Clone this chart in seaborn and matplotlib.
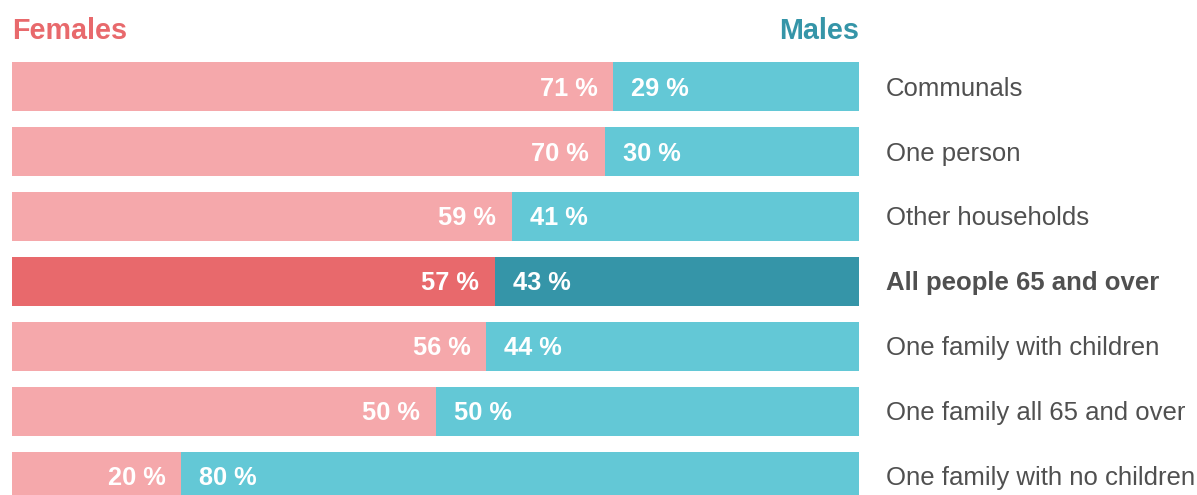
import matplotlib
matplotlib.use("Agg")
import matplotlib.pyplot as plt
import seaborn as sns
import pandas as pd

categories = [
    "Communals",
    "One person",
    "Other households",
    "All people 65 and over",
    "One family with children",
    "One family all 65 and over",
    "One family with no children",
]
females = [71, 70, 59, 57, 56, 50, 20]
males = [29, 30, 41, 43, 44, 50, 80]
highlight = "All people 65 and over"

FEMALE_LIGHT = "#F5A8AB"
FEMALE_DARK = "#E8696C"
MALE_LIGHT = "#63C8D6"
MALE_DARK = "#3595A8"
LABEL_GREY = "#505050"

sns.set_theme(style="white")
plt.rcParams["font.family"] = ["Liberation Sans", "DejaVu Sans"]

df = pd.DataFrame({"category": categories, "female": females, "male": males})
df["total"] = df["female"] + df["male"]

fig = plt.figure(figsize=(11.97, 4.95), dpi=100)
ax = fig.add_axes([12 / 1197, 0, (859 - 12) / 1197, 1])

male_pal = {c: (MALE_DARK if c == highlight else MALE_LIGHT) for c in categories}
female_pal = {c: (FEMALE_DARK if c == highlight else FEMALE_LIGHT) for c in categories}

# Full-width bar in the male colour, female share drawn over it from the left
sns.barplot(data=df, x="total", y="category", hue="category", palette=male_pal,
            order=categories, hue_order=categories, width=0.754, legend=False,
            saturation=1, linewidth=0, ax=ax)
sns.barplot(data=df, x="female", y="category", hue="category", palette=female_pal,
            order=categories, hue_order=categories, width=0.754, legend=False,
            saturation=1, linewidth=0, ax=ax)

ax.set_xlim(0, 100)
ax.set_ylim(6.285, -1.331)

for i, (f, m) in enumerate(zip(females, males)):
    ax.annotate(f"{f} %", xy=(f, i), xytext=(-16, -2), textcoords="offset pixels",
                ha="right", va="center", color="white", fontsize=18.3,
                fontweight="bold")
    ax.annotate(f"{m} %", xy=(f, i), xytext=(18, -2), textcoords="offset pixels",
                ha="left", va="center", color="white", fontsize=18.3,
                fontweight="bold")
    ax.annotate(categories[i], xy=(100, i), xytext=(27, -2), textcoords="offset pixels",
                ha="left", va="center", color=LABEL_GREY, fontsize=18.5,
                fontweight="bold" if categories[i] == highlight else "normal")

ax.text(0, -0.86, "Females", ha="left", va="center", color=FEMALE_DARK,
        fontsize=20.7, fontweight="bold")
ax.text(100, -0.86, "Males", ha="right", va="center", color=MALE_DARK,
        fontsize=20.7, fontweight="bold")

ax.set_xlabel("")
ax.set_ylabel("")
ax.set_xticks([])
ax.set_yticks([])
sns.despine(ax=ax, left=True, bottom=True)
ax.patch.set_alpha(0)

fig.savefig("out.png", dpi=100)
